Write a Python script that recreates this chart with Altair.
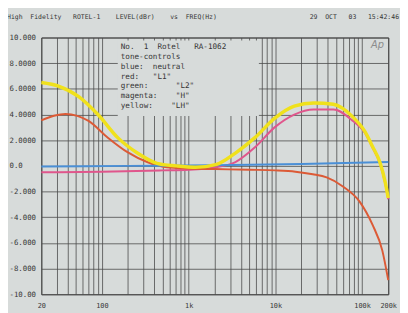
import altair as alt
import pandas as pd

# ---- data ----
yellow_f = [20, 32, 54, 90, 152, 256, 431, 725, 1200, 2050, 3460, 5810, 9780,
            16500, 27700, 46600, 78400, 107000, 132000, 160000, 185000, 200000]
yellow_db = [6.5, 6.2, 5.4, 4.0, 2.2, 1.0, 0.2, 0.0, -0.1, 0.1, 1.0, 2.2, 3.7,
             4.65, 4.9, 4.8, 3.8, 2.7, 1.5, 0.3, -1.3, -2.5]

red_f = [20, 28, 38, 52, 70, 117, 197, 332, 558, 1000, 2000, 5000, 10000,
         17000, 27000, 39000, 60000, 94000, 132000, 171000, 200000]
red_db = [3.55, 3.9, 4.05, 3.9, 3.5, 2.2, 1.07, 0.3, -0.1, -0.2, -0.25, -0.3, -0.35,
          -0.45, -0.65, -0.9, -1.6, -2.8, -4.6, -6.6, -8.9]

magenta_f = [20, 100, 500, 1000, 2050, 3460, 5810, 9780, 16500, 27700, 46600,
             78400, 107000, 132000, 160000, 185000, 200000]
magenta_db = [-0.5, -0.45, -0.35, -0.3, -0.1, 0.3, 1.45, 3.0, 4.0, 4.4, 4.4,
              3.5, 2.6, 1.4, 0.2, -1.4, -2.6]

blue_f = [20, 200, 2000, 20000, 200000]
blue_db = [-0.05, 0.0, 0.05, 0.15, 0.3]

x_grid = ([20, 30, 40, 50, 60, 70, 80, 90] +
          [m * 10 ** e for e in (2, 3, 4) for m in range(1, 10)] +
          [100000, 200000])
x_labels = {20: "20", 100: "100", 1000: "1k", 10000: "10k", 100000: "100k", 200000: "200k"}
y_grid = [-10, -8, -6, -4, -2, 0, 2, 4, 6, 8, 10]
y_labels = {10: "10.000", 8: "8.0000", 6: "6.0000", 4: "4.0000", 2: "2.0000", 0: "0.0",
            -2: "-2.000", -4: "-4.000", -6: "-6.000", -8: "-8.000", -10: "-10.00"}

legend_lines = ["No.  1  Rotel   RA-1062", "tone-controls", "blue:  neutral",
                "red:   \"L1\"", "green:      \"L2\"", "magenta:    \"H\"",
                "yellow:    \"LH\""]
title_left = "High  Fidelity   ROTEL-1    LEVEL(dBr)    vs  FREQ(Hz)"
title_right = "29  OCT   03   15:42:46"

NB = "\u00a0"
def keep_spaces(s):
    return s.replace(" ", NB)

BG = "#d7dbda"
FONT = "DejaVu Sans Mono"
TXT = "#363636"

x_expr = " : ".join(f"datum.value == {k} ? '{v}'" for k, v in x_labels.items()) + " : ''"
y_expr = " : ".join(f"datum.value == {k} ? '{v}'" for k, v in y_labels.items()) + " : ''"

x_enc = alt.X("f:Q", scale=alt.Scale(type="log", domain=[20, 200000], nice=False),
              axis=alt.Axis(values=x_grid, labelExpr=x_expr, title=None, grid=True,
                            gridColor="#4a4a4a", gridWidth=0.8, gridOpacity=1,
                            ticks=False, tickSize=0, domain=False, labelFont=FONT,
                            labelFontSize=7, labelColor=TXT, labelPadding=8,
                            labelOverlap=False, labelFlush=False))
y_enc = alt.Y("db:Q", scale=alt.Scale(domain=[-10, 10], nice=False),
              axis=alt.Axis(values=y_grid, labelExpr=y_expr, title=None, grid=True,
                            gridColor="#4a4a4a", gridWidth=0.8, gridOpacity=1,
                            ticks=False, tickSize=0, domain=False, labelFont=FONT,
                            labelFontSize=7.5, labelColor=TXT, labelPadding=33,
                            labelAlign="left", labelBaseline="middle"))


def curve(fs, dbs, color, width):
    df = pd.DataFrame({"f": fs, "db": dbs})
    return alt.Chart(df).mark_line(color=color, strokeWidth=width,
                                   interpolate="monotone").encode(x=x_enc, y=y_enc)


one = alt.Data(values=[{}])
box = alt.Chart(one).mark_rect(fill=BG).encode(
    x=alt.value(78), x2=alt.value(222), y=alt.value(3), y2=alt.value(80))
legend_text = alt.Chart(one).mark_text(
    font=FONT, fontSize=7.8, color=TXT, align="left", baseline="middle",
    lineBreak="\n", lineHeight=10).encode(
    x=alt.value(81), y=alt.value(10),
    text=alt.value("\n".join(keep_spaces(s) for s in legend_lines)))
t_left = alt.Chart(one).mark_text(
    font=FONT, fontSize=6.6, color=TXT, align="left", baseline="middle").encode(
    x=alt.value(-35), y=alt.value(-21), text=alt.value(keep_spaces(title_left)))
t_right = alt.Chart(one).mark_text(
    font=FONT, fontSize=6.6, color=TXT, align="right", baseline="middle").encode(
    x=alt.value(365), y=alt.value(-21), text=alt.value(keep_spaces(title_right)))
logo = alt.Chart(one).mark_text(
    font="DejaVu Sans", fontSize=10, color="#8c8c8c", align="center", baseline="middle",
    fontStyle="italic").encode(x=alt.value(343), y=alt.value(8), text=alt.value("Ap"))

chart = alt.layer(
    curve(magenta_f, magenta_db, "#e0568c", 2),
    curve(red_f, red_db, "#dc5a36", 2),
    box, legend_text, t_left, t_right, logo,
    curve(blue_f, blue_db, "#4a8fd6", 2),
    curve(yellow_f, yellow_db, "#f0e11c", 3.5),
).properties(
    width=354, height=262, autosize="none",
    padding={"left": 34, "top": 27, "right": 12, "bottom": 16},
    background=BG,
).configure_view(stroke="#404040", strokeWidth=1)

chart.save("out.html", embed_options={"renderer": "svg", "actions": False})
